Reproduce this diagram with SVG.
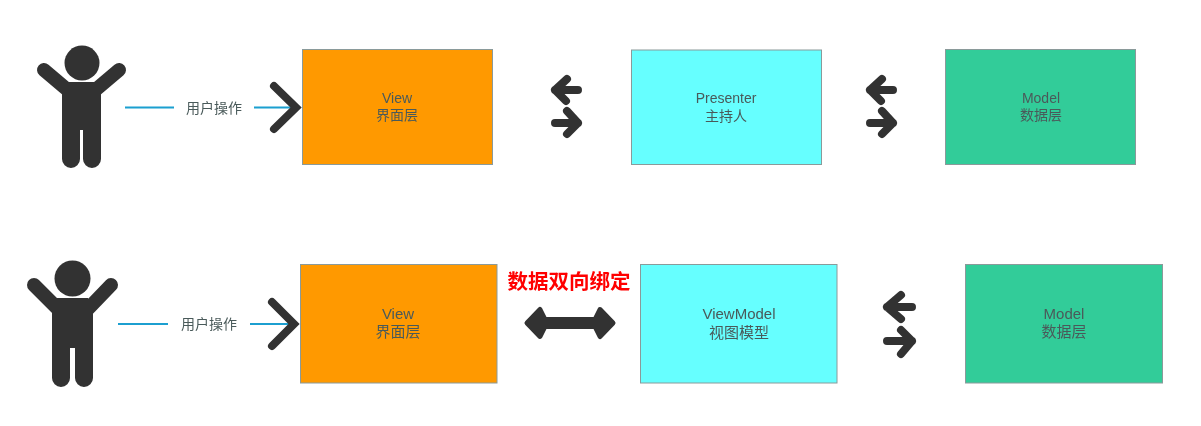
<svg xmlns="http://www.w3.org/2000/svg" width="1201" height="426" viewBox="0 0 1201 426">
<style>
text{font-family:"Liberation Sans","Noto Sans CJK SC",sans-serif;text-anchor:middle;fill:#4a5a5a}
.l{font-size:14px}.m{font-size:15px}
.box{stroke:#8a9a9a;stroke-width:1}
.o{fill:#ff9900}.c{fill:#66ffff}.g{fill:#33cc99}
.ink{fill:#333}
.limb{fill:none;stroke:#333;stroke-linecap:round;stroke-linejoin:round;stroke-width:14}
.wire{fill:none;stroke:#1a9fd0;stroke-width:2}
.chev{fill:none;stroke:#333;stroke-width:8;stroke-linecap:round;stroke-linejoin:miter}
.ar{fill:none;stroke:#333;stroke-width:8;stroke-linecap:round;stroke-linejoin:round}
</style>
<defs><filter id="soft" filterUnits="userSpaceOnUse" x="0" y="0" width="1201" height="426"><feGaussianBlur stdDeviation="0.450"/></filter></defs>
<rect width="1201" height="426" fill="#fff"/>
<g filter="url(#soft)">
<g id="user-top">
<circle class="ink" cx="82" cy="63" r="17.500"/>
<path class="limb" d="M44 70L70 92M119 70L93 92"/>
<path class="ink" d="M67 82H96L101 92V159A9 9 0 0 1 83 159V130H80V159A9 9 0 0 1 62 159V92Z"/>
</g>
<g id="user-bottom">
<circle class="ink" cx="72.500" cy="278.500" r="18"/>
<path class="limb" d="M34 285L60 311M111 285L86 311"/>
<path class="ink" d="M57 298H88L93 310V378A9 9 0 0 1 75 378V348H70V378A9 9 0 0 1 52 378V310Z"/>
</g>
<g id="view-top"><rect class="box o" x="302.500" y="49.500" width="190" height="115"/><text class="l" x="397" y="103">View</text><text class="l" x="397" y="120">界面层</text></g>
<g id="presenter"><rect class="box c" x="631.500" y="50" width="190" height="114.500"/><text class="l" x="726" y="103">Presenter</text><text class="l" x="726" y="121">主持人</text></g>
<g id="model-top"><rect class="box g" x="945.500" y="49.500" width="190" height="115"/><text class="l" x="1041" y="103">Model</text><text class="l" x="1041" y="120">数据层</text></g>
<g id="view-bottom"><rect class="box o" x="300.500" y="264.500" width="196.500" height="118.500"/><text class="m" x="398" y="319">View</text><text class="m" x="398" y="337">界面层</text></g>
<g id="viewmodel"><rect class="box c" x="640.500" y="264.500" width="196.500" height="118.500"/><text class="m" x="739" y="319">ViewModel</text><text class="m" x="739" y="338">视图模型</text></g>
<g id="model-bottom"><rect class="box g" x="965.500" y="264.500" width="197" height="118.500"/><text class="m" x="1064" y="319">Model</text><text class="m" x="1064" y="337">数据层</text></g>
<g id="connectors">
<path class="wire" d="M125 107.500H174M254 107.500H296"/>
<path class="chev" d="M274 86L296 107.500L274 129"/>
<text class="l" x="214" y="113">用户操作</text>
<path class="wire" d="M118 324H168M250 324H294"/>
<path class="chev" d="M272 302L294 324L272 346"/>
<text class="l" x="209" y="329">用户操作</text>
<path id="a1" class="ar" d="M578 90H555M567 79L555 90L566 101M555 123H578M567 111L578 123L567 134"/>
<path id="a2" class="ar" d="M893 90H870M882 79L870 90L881 101M870 123H893M882 111L893 123L882 134"/>
<path id="a3" class="ar" d="M912 307H887M901 295L887 307L901 319M887 341H912M901 330L912 341L901 354"/>
<path id="a4" fill="#333" stroke="#333" stroke-width="5" stroke-linejoin="round" d="M527 323L540 309.500L545 319.500H595L600 309.500L613 323L600 336.500L595 326.500H545L540 336.500Z"/>
<text x="569" y="289" font-size="20.500" font-weight="700" style="fill:#ff0000">数据双向绑定</text>
</g>
</g>
</svg>
